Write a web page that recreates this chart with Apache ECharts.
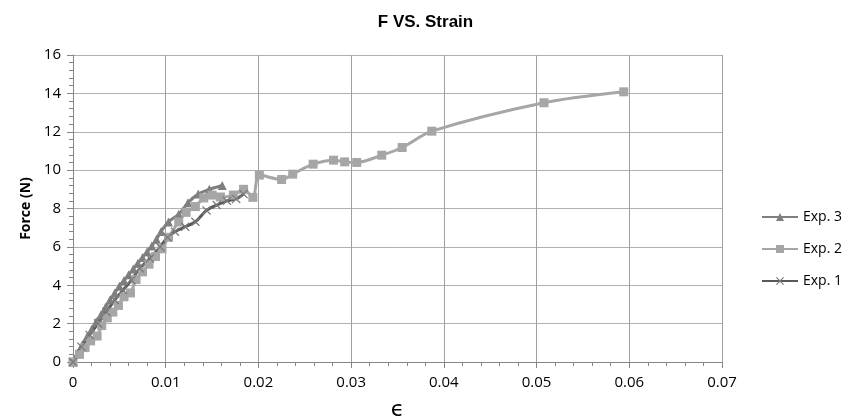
<!DOCTYPE html>
<html>
<head>
<meta charset="utf-8">
<script src="https://cdn.jsdelivr.net/npm/echarts@6/dist/echarts.min.js"></script>
<style>
  html, body { margin: 0; padding: 0; background: #fff; }
  #chart { width: 851px; height: 420px; }
</style>
</head>
<body>
<div id="chart"></div>
<script>
// strain / force readings per experiment
var exp3Strain = [0, 0.0005, 0.001, 0.0015, 0.002, 0.0025, 0.003, 0.0035, 0.004, 0.0045, 0.005, 0.0055, 0.006, 0.0065, 0.007, 0.0075, 0.008, 0.0085, 0.009, 0.0095, 0.0103, 0.0114, 0.0124, 0.0135, 0.0147, 0.0161];
var exp3Force  = [0, 0.45, 0.9, 1.3, 1.7, 2.1, 2.45, 2.85, 3.25, 3.6, 3.95, 4.25, 4.55, 4.85, 5.15, 5.45, 5.75, 6.05, 6.4, 6.8, 7.3, 7.7, 8.3, 8.75, 9.0, 9.2];

var exp2Strain = [0, 0.0007, 0.0013, 0.0019, 0.0026, 0.0031, 0.0037, 0.0043, 0.0049, 0.0055, 0.0062, 0.0068, 0.0075, 0.0082, 0.0089, 0.0096, 0.0103, 0.0114, 0.0122, 0.0132, 0.0141, 0.015, 0.0159, 0.0173, 0.0184, 0.0194, 0.0201, 0.0225, 0.0237, 0.0259, 0.0281, 0.0293, 0.0306, 0.0333, 0.0355, 0.0387, 0.0508, 0.0594];
var exp2Force  = [0, 0.4, 0.75, 1.1, 1.35, 1.9, 2.3, 2.6, 2.95, 3.4, 3.6, 4.3, 4.7, 5.1, 5.5, 5.9, 6.5, 7.3, 7.8, 8.1, 8.55, 8.7, 8.6, 8.7, 9.0, 8.58, 9.74, 9.51, 9.79, 10.31, 10.52, 10.43, 10.4, 10.78, 11.18, 12.03, 13.51, 14.08];

var exp1Strain = [0, 0.0009, 0.0018, 0.0027, 0.0036, 0.0045, 0.0054, 0.0063, 0.0072, 0.0083, 0.0094, 0.0102, 0.011, 0.0121, 0.0132, 0.0144, 0.0155, 0.0166, 0.0176, 0.0184];
var exp1Force  = [0, 0.8, 1.41, 2.01, 2.62, 3.23, 3.75, 4.27, 4.88, 5.4, 6.0, 6.5, 6.79, 7.05, 7.31, 7.9, 8.18, 8.4, 8.5, 8.75];

var xTicks = [0, 0.01, 0.02, 0.03, 0.04, 0.05, 0.06, 0.07];
var yTicks = [0, 2, 4, 6, 8, 10, 12, 14, 16];

function pairs(xs, ys) {
  return xs.map(function (x, i) { return [x, ys[i]]; });
}

var crossPath = 'path://M0,1L1,0L5,4L9,0L10,1L6,5L10,9L9,10L5,6L1,10L0,9L4,5Z';
var font = 'Open Sans';

var chart = echarts.init(document.getElementById('chart'));
chart.setOption({
  animation: false,
  textStyle: { fontFamily: font },
  title: {
    text: 'F VS. Strain',
    left: 'center',
    top: 9,
    textStyle: { fontSize: 17, fontWeight: 'bold', color: '#000', fontFamily: 'Liberation Sans' }
  },
  legend: {
    orient: 'vertical',
    left: 756,
    top: 205,
    itemWidth: 36,
    itemHeight: 10,
    itemGap: 18,
    textStyle: { fontSize: 14, color: '#000' },
    data: ['Exp. 3', 'Exp. 2', 'Exp. 1']
  },
  grid: { left: 73, right: 129, top: 55, bottom: 58, outerBoundsMode: 'none', containLabel: false },
  xAxis: {
    type: 'value',
    min: xTicks[0],
    max: xTicks[xTicks.length - 1],
    interval: 0.01,
    name: 'ϵ',
    nameLocation: 'middle',
    nameGap: 37,
    nameTextStyle: { fontSize: 22, color: '#000', fontFamily: 'DejaVu Sans' },
    axisLine: { lineStyle: { color: '#868686' } },
    axisTick: { show: true, length: 6, lineStyle: { color: '#868686' } },
    minorTick: { show: true, splitNumber: 5, length: 4, lineStyle: { color: '#868686' } },
    axisLabel: { fontSize: 15, color: '#000', margin: 13 },
    splitLine: { lineStyle: { color: '#a0a0a0', width: 1 } }
  },
  yAxis: {
    type: 'value',
    min: yTicks[0],
    max: yTicks[yTicks.length - 1],
    interval: 2,
    name: 'Force (N)',
    nameLocation: 'middle',
    nameGap: 36,
    nameTextStyle: { fontSize: 14, fontWeight: 'bold', color: '#000' },
    axisLine: { show: true, lineStyle: { color: '#868686' } },
    axisTick: { show: true, length: 6, lineStyle: { color: '#868686' } },
    minorTick: { show: true, splitNumber: 5, length: 4, lineStyle: { color: '#868686' } },
    axisLabel: { fontSize: 15, color: '#000', margin: 12 },
    splitLine: { lineStyle: { color: '#b0b0b0', width: 1 } }
  },
  series: [
    {
      name: 'Exp. 3',
      type: 'line',
      smooth: 0.3,
      data: pairs(exp3Strain, exp3Force),
      symbol: 'triangle',
      symbolSize: 9,
      lineStyle: { color: '#7f7f7f', width: 3 },
      itemStyle: { color: '#7f7f7f' }
    },
    {
      name: 'Exp. 2',
      type: 'line',
      smooth: 0.3,
      data: pairs(exp2Strain, exp2Force),
      symbol: 'rect',
      symbolSize: 9,
      lineStyle: { color: '#a6a6a6', width: 3 },
      itemStyle: { color: '#a6a6a6' }
    },
    {
      name: 'Exp. 1',
      type: 'line',
      smooth: 0.3,
      data: pairs(exp1Strain, exp1Force),
      symbol: crossPath,
      symbolSize: 9,
      lineStyle: { color: '#595959', width: 3 },
      itemStyle: { color: '#7a7a7a' }
    }
  ]
});
</script>
</body>
</html>
